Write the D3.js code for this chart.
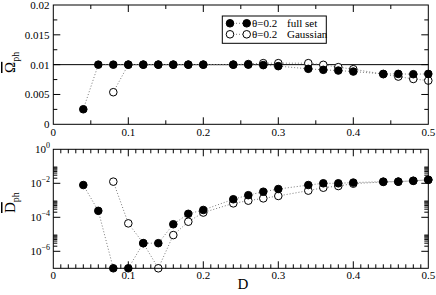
<!DOCTYPE html>
<html><head><meta charset="utf-8">
<script src="https://cdn.jsdelivr.net/npm/d3@7/dist/d3.min.js"></script>
<style>body{margin:0;background:#fff}svg{display:block}text{font-family:"Liberation Serif","Times New Roman",serif;fill:#000}</style>
</head><body><svg id="c" width="436" height="295"></svg>
<script>
const dFull=[0.04,0.06,0.08,0.10,0.12,0.14,0.16,0.18,0.20,0.24,0.26,0.28,0.30,0.34,0.36,0.38,0.40,0.44,0.46,0.48,0.50];
const omegaFull=[0.00252,0.01,0.01,0.01,0.01,0.01,0.01,0.01,0.01,0.01,0.01,0.00992,0.00975,0.0093,0.00913,0.00901,0.00884,0.00845,0.00845,0.0084,0.00845];
const dGauss=[0.08,0.10,0.12,0.14,0.16,0.18,0.20,0.24,0.26,0.28,0.30,0.34,0.36,0.38,0.40,0.44,0.46,0.48,0.50];
const omegaGauss=[0.00538,0.01,0.01,0.01,0.01,0.01,0.01,0.01,0.0101,0.01025,0.01025,0.01025,0.00997,0.00958,0.00924,0.0084,0.0080,0.0076,0.00733];
const dphFull=[7.9e-3,2.4e-4,1e-7,1e-7,3e-6,3e-6,3.9e-5,1.6e-4,2.7e-4,1.15e-3,2.0e-3,3.2e-3,4.6e-3,7.9e-3,1e-2,1e-2,1.1e-2,1.25e-2,1.25e-2,1.4e-2,1.6e-2];
const dphGauss=[1.25e-2,4.4e-5,3e-6,1e-7,9e-6,5.5e-5,1.9e-4,6.6e-4,9.5e-4,1.3e-3,1.8e-3,3.7e-3,5.5e-3,6.9e-3,9.5e-3,1.2e-2,1.25e-2,1.4e-2,1.6e-2];
const xTickLabels=["0","0.1","0.2","0.3","0.4","0.5"];
const omegaTickLabels=["0","0.005","0.01","0.015","0.02"];
const dphTickExps=[0,-2,-4,-6];
const legendLabels=[["θ=0.2","full set"],["θ=0.2","Gaussian"]];

const svg=d3.select("#c");
const X0=53.3,X1=428.3;
const x=d3.scaleLinear().domain([0,0.5]).range([X0,X1]);
const yT=d3.scaleLinear().domain([0,0.02]).range([124.3,5]);
const yB=d3.scaleLog().domain([1e-7,1]).range([268.3,149.3]);
const R=3.8, lineCol="#7a7a7a";

function ticks(g,scale,vals,len,orient,y0,y1){
  vals.forEach(v=>{
    if(orient==="x"){
      const px=scale(v);
      g.append("line").attr("x1",px).attr("x2",px).attr("y1",y1).attr("y2",y1-len).attr("stroke","#000");
      g.append("line").attr("x1",px).attr("x2",px).attr("y1",y0).attr("y2",y0+len).attr("stroke","#000");
    } else {
      const py=scale(v);
      g.append("line").attr("x1",X0).attr("x2",X0+len).attr("y1",py).attr("y2",py).attr("stroke","#000");
      g.append("line").attr("x1",X1).attr("x2",X1-len).attr("y1",py).attr("y2",py).attr("stroke","#000");
    }
  });
}
function frame(y0,y1){
  svg.append("rect").attr("x",X0).attr("y",y0).attr("width",X1-X0).attr("height",y1-y0).attr("fill","none").attr("stroke","#000").attr("stroke-width",1);
}
function series(scale,xs,ys,filled,clip){
  const line=d3.line().x((d,i)=>x(xs[i])).y(d=>scale(d));
  svg.append("path").attr("d",line(ys)).attr("fill","none").attr("stroke",lineCol).attr("stroke-width",1).attr("stroke-dasharray","1,2");
  svg.append("g").selectAll("circle").data(ys).join("circle")
    .attr("cx",(d,i)=>x(xs[i])).attr("cy",d=>scale(d)).attr("r",R)
    .attr("fill",filled?"#000":"#fff").attr("stroke","#000").attr("stroke-width",1);
}

// ---- Top panel ----
const gT=svg.append("g");
ticks(gT,x,d3.range(0,0.501,0.1).slice(1,-1),7,"x",5,124.3);
ticks(gT,x,[0.05,0.15,0.25,0.35,0.45],4,"x",5,124.3);
ticks(gT,yT,[0.005,0.01,0.015],7,"y");
ticks(gT,yT,[0.0025,0.0075,0.0125,0.0175],4,"y");
svg.append("line").attr("x1",X0).attr("x2",X1).attr("y1",yT(0.01)).attr("y2",yT(0.01)).attr("stroke","#000");
series(yT,dGauss,omegaGauss,false);
series(yT,dFull,omegaFull,true);
frame(5,124.3);
omegaTickLabels.forEach((t,i)=>{
  svg.append("text").attr("x",49.5).attr("y",yT(i*0.005)+4).attr("text-anchor","end").attr("font-size",11).text(t);
});
xTickLabels.forEach((t,i)=>{
  svg.append("text").attr("x",x(i*0.1)).attr("y",136).attr("text-anchor","middle").attr("font-size",11).text(t);
});
// y label top
const lt=svg.append("text").attr("transform","translate(15,73) rotate(-90)").attr("font-size",15);
lt.append("tspan").attr("text-decoration","overline").text("Ω");
lt.append("tspan").attr("font-size",10).attr("dy",4).text("ph");

// legend
const lg=svg.append("g");
lg.append("rect").attr("x",222.3).attr("y",16).attr("width",104).attr("height",27.3).attr("fill","#fff").attr("stroke","#000");
legendLabels.forEach((l,i)=>{
  const yy=23.3+i*11;
  lg.append("line").attr("x1",230).attr("x2",246.7).attr("y1",yy).attr("y2",yy).attr("stroke",lineCol).attr("stroke-dasharray","1,2");
  [230,246.7].forEach(cx=>lg.append("circle").attr("cx",cx).attr("cy",yy).attr("r",R).attr("fill",i===0?"#000":"#fff").attr("stroke","#000"));
  lg.append("text").attr("x",252).attr("y",yy+3.8).attr("font-size",11).text(l[0]);
  lg.append("text").attr("x",287).attr("y",yy+3.8).attr("font-size",11).text(l[1]);
});

// ---- Bottom panel ----
const gB=svg.append("g");
ticks(gB,x,[0.1,0.2,0.3,0.4],7,"x",149.3,268.3);
ticks(gB,x,d3.range(1,50).map(v=>v/100).filter(v=>Math.round(v*100)%10!==0),4,"x",149.3,268.3);
ticks(gB,yB,dphTickExps.slice(1).map(e=>Math.pow(10,e)),7,"y");
const minors=[];
[-2,-4,-6].forEach(e=>{for(let k=2;k<=9;k++)minors.push(k*Math.pow(10,e));});
ticks(gB,yB,minors,4,"y");
series(yB,dGauss,dphGauss,false);
series(yB,dFull,dphFull,true);
frame(149.3,268.3);
dphTickExps.forEach(e=>{
  const t=svg.append("text").attr("x",50).attr("y",yB(Math.pow(10,e))+4).attr("text-anchor","end").attr("font-size",11);
  t.append("tspan").text("10");
  t.append("tspan").attr("font-size",8).attr("dy",-5).text(e===0?"0":"\u2212"+(-e));
});
xTickLabels.forEach((t,i)=>{
  svg.append("text").attr("x",x(i*0.1)).attr("y",279).attr("text-anchor","middle").attr("font-size",11).text(t);
});
svg.append("text").attr("x",243).attr("y",289).attr("text-anchor","middle").attr("font-size",15).text("D");
const lb=svg.append("text").attr("transform","translate(15,213) rotate(-90)").attr("font-size",15);
lb.append("tspan").attr("text-decoration","overline").text("D");
lb.append("tspan").attr("font-size",10).attr("dy",4).text("ph");
</script></body></html>
